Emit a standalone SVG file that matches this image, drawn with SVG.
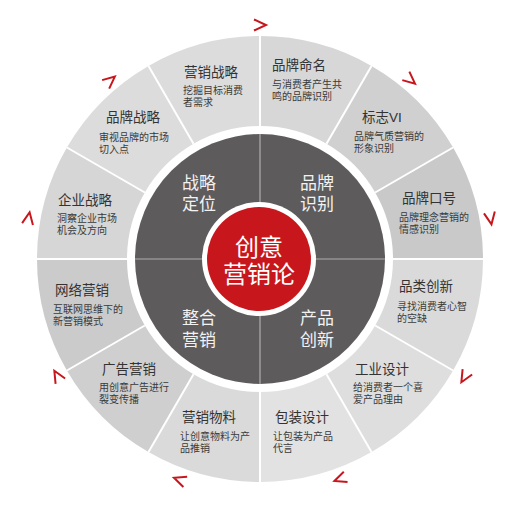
<svg xmlns="http://www.w3.org/2000/svg" width="524" height="508" viewBox="0 0 524 508">
<defs>
<style>
.t{font-family:"Liberation Sans","Noto Sans CJK SC",sans-serif;font-size:13.5px;fill:#333}
.d{font-family:"Liberation Sans","Noto Sans CJK SC",sans-serif;font-size:10px;fill:#3a3a3a}
.q{font-family:"Liberation Sans","Noto Sans CJK SC",sans-serif;font-size:17px;fill:#f2f2f2}
.c{font-family:"Liberation Sans","Noto Sans CJK SC",sans-serif;font-size:24px;fill:#fff;text-anchor:middle}
.div{stroke:#fff;stroke-width:2}
.qd{stroke:#b0aeb0;stroke-width:1.2}
.arr{fill:none;stroke:#c8161d;stroke-width:2;stroke-linejoin:miter}
</style>
<path id="chev" d="M -6 -5.5 L 6 0 L -6 5.5"/>
</defs>
<rect width="524" height="508" fill="#fff"/>

<g id="seg-yingxiaozhanlue">
<path d="M 148.5 65.88 A 223 223 0 0 1 260 36 L 260 126 A 133 133 0 0 0 193.5 143.82 Z" fill="#dcdcdc"/>
<text class="t" x="184" y="77">营销战略</text>
<text class="d"><tspan x="183" y="94">挖掘目标消费</tspan><tspan x="183" dy="12">者需求</tspan></text>
</g>
<g id="seg-pinpaimingming">
<path d="M 260 36 A 223 223 0 0 1 371.5 65.88 L 326.5 143.82 A 133 133 0 0 0 260 126 Z" fill="#d7d7d7"/>
<text class="t" x="272" y="70">品牌命名</text>
<text class="d"><tspan x="272" y="88">与消费者产生共</tspan><tspan x="272" dy="12">鸣的品牌识别</tspan></text>
</g>
<g id="seg-biaozhivi">
<path d="M 371.5 65.88 A 223 223 0 0 1 453.12 147.5 L 375.18 192.5 A 133 133 0 0 0 326.5 143.82 Z" fill="#d0d0d0"/>
<text class="t" x="362" y="122">标志VI</text>
<text class="d"><tspan x="354" y="140">品牌气质营销的</tspan><tspan x="354" dy="12">形象识别</tspan></text>
</g>
<g id="seg-pinpaikouhao">
<path d="M 453.12 147.5 A 223 223 0 0 1 483 259 L 393 259 A 133 133 0 0 0 375.18 192.5 Z" fill="#c9c9c9"/>
<text class="t" x="402" y="203">品牌口号</text>
<text class="d"><tspan x="399" y="221">品牌理念营销的</tspan><tspan x="399" dy="12">情感识别</tspan></text>
</g>
<g id="seg-pinleichuangxin">
<path d="M 483 259 A 223 223 0 0 1 453.12 370.5 L 375.18 325.5 A 133 133 0 0 0 393 259 Z" fill="#dadada"/>
<text class="t" x="399" y="291">品类创新</text>
<text class="d"><tspan x="397" y="310">寻找消费者心智</tspan><tspan x="397" dy="12">的空缺</tspan></text>
</g>
<g id="seg-gongyesheji">
<path d="M 453.12 370.5 A 223 223 0 0 1 371.5 452.12 L 326.5 374.18 A 133 133 0 0 0 375.18 325.5 Z" fill="#dedede"/>
<text class="t" x="355" y="374">工业设计</text>
<text class="d"><tspan x="353" y="391">给消费者一个喜</tspan><tspan x="353" dy="12">爱产品理由</tspan></text>
</g>
<g id="seg-baozhuangsheji">
<path d="M 371.5 452.12 A 223 223 0 0 1 260 482 L 260 392 A 133 133 0 0 0 326.5 374.18 Z" fill="#e2e2e2"/>
<text class="t" x="275" y="422">包装设计</text>
<text class="d"><tspan x="273" y="440">让包装为产品</tspan><tspan x="273" dy="12">代言</tspan></text>
</g>
<g id="seg-yingxiaowuliao">
<path d="M 260 482 A 223 223 0 0 1 148.5 452.12 L 193.5 374.18 A 133 133 0 0 0 260 392 Z" fill="#dadada"/>
<text class="t" x="182" y="422">营销物料</text>
<text class="d"><tspan x="180" y="440">让创意物料为产</tspan><tspan x="180" dy="12">品推销</tspan></text>
</g>
<g id="seg-guanggaoyingxiao">
<path d="M 148.5 452.12 A 223 223 0 0 1 66.88 370.5 L 144.82 325.5 A 133 133 0 0 0 193.5 374.18 Z" fill="#cfcfcf"/>
<text class="t" x="102" y="374">广告营销</text>
<text class="d"><tspan x="99" y="391">用创意广告进行</tspan><tspan x="99" dy="12">裂变传播</tspan></text>
</g>
<g id="seg-wangluoyingxiao">
<path d="M 66.88 370.5 A 223 223 0 0 1 37 259 L 127 259 A 133 133 0 0 0 144.82 325.5 Z" fill="#cbcbcb"/>
<text class="t" x="55" y="295">网络营销</text>
<text class="d"><tspan x="53" y="313">互联网思维下的</tspan><tspan x="53" dy="12">新营销模式</tspan></text>
</g>
<g id="seg-qiyezhanlue">
<path d="M 37 259 A 223 223 0 0 1 66.88 147.5 L 144.82 192.5 A 133 133 0 0 0 127 259 Z" fill="#d6d6d6"/>
<text class="t" x="58" y="205">企业战略</text>
<text class="d"><tspan x="57" y="222">洞察企业市场</tspan><tspan x="57" dy="12">机会及方向</tspan></text>
</g>
<g id="seg-pinpaizhanlue">
<path d="M 66.88 147.5 A 223 223 0 0 1 148.5 65.88 L 193.5 143.82 A 133 133 0 0 0 144.82 192.5 Z" fill="#dcdcdc"/>
<text class="t" x="106" y="122">品牌战略</text>
<text class="d"><tspan x="99" y="141">审视品牌的市场</tspan><tspan x="99" dy="12">切入点</tspan></text>
</g>

<g id="seg-dividers">
<line class="div" x1="260" y1="126" x2="260" y2="36"/>
<line class="div" x1="326.5" y1="143.82" x2="371.5" y2="65.88"/>
<line class="div" x1="375.18" y1="192.5" x2="453.12" y2="147.5"/>
<line class="div" x1="393" y1="259" x2="483" y2="259"/>
<line class="div" x1="375.18" y1="325.5" x2="453.12" y2="370.5"/>
<line class="div" x1="326.5" y1="374.18" x2="371.5" y2="452.12"/>
<line class="div" x1="260" y1="392" x2="260" y2="482"/>
<line class="div" x1="193.5" y1="374.18" x2="148.5" y2="452.12"/>
<line class="div" x1="144.82" y1="325.5" x2="66.88" y2="370.5"/>
<line class="div" x1="127" y1="259" x2="37" y2="259"/>
<line class="div" x1="144.82" y1="192.5" x2="66.88" y2="147.5"/>
<line class="div" x1="193.5" y1="143.82" x2="148.5" y2="65.88"/>
</g>

<g id="core-ring">
<circle cx="260" cy="259" r="125" fill="#5e5b5d"/>
<line class="qd" x1="260" y1="134" x2="260" y2="384"/>
<line class="qd" x1="135" y1="259" x2="385" y2="259"/>
</g>
<g id="q-zhanluedingwei">
<text class="q"><tspan x="182" y="188.5">战略</tspan><tspan x="182" dy="21">定位</tspan></text>
</g>
<g id="q-pinpaishibie">
<text class="q"><tspan x="300" y="188.5">品牌</tspan><tspan x="300" dy="21">识别</tspan></text>
</g>
<g id="q-zhengheyingxiao">
<text class="q"><tspan x="182" y="323.5">整合</tspan><tspan x="182" dy="22">营销</tspan></text>
</g>
<g id="q-chanpinchuangxin">
<text class="q"><tspan x="300" y="323.5">产品</tspan><tspan x="300" dy="22">创新</tspan></text>
</g>
<g id="center">
<circle cx="259" cy="259" r="57" fill="#fff"/>
<circle cx="259" cy="259" r="52" fill="#c8161d"/>
<text class="c"><tspan x="259" y="255.5">创意</tspan><tspan x="259" dy="27">营销论</tspan></text>
</g>

<g id="arrows">
<use href="#chev" class="arr" transform="translate(260 259) rotate(0) translate(0 -234)"/>
<use href="#chev" class="arr" transform="translate(260 259) rotate(40) translate(0 -234)"/>
<use href="#chev" class="arr" transform="translate(260 259) rotate(80) translate(0 -234)"/>
<use href="#chev" class="arr" transform="translate(260 259) rotate(120) translate(0 -236)"/>
<use href="#chev" class="arr" transform="translate(260 259) rotate(160) translate(0 -234)"/>
<use href="#chev" class="arr" transform="translate(260 259) rotate(200) translate(0 -235)"/>
<use href="#chev" class="arr" transform="translate(260 259) rotate(240) translate(0 -234)"/>
<use href="#chev" class="arr" transform="translate(260 259) rotate(280) translate(0 -235)"/>
<use href="#chev" class="arr" transform="translate(260 259) rotate(320) translate(0 -233)"/>
</g>
</svg>
